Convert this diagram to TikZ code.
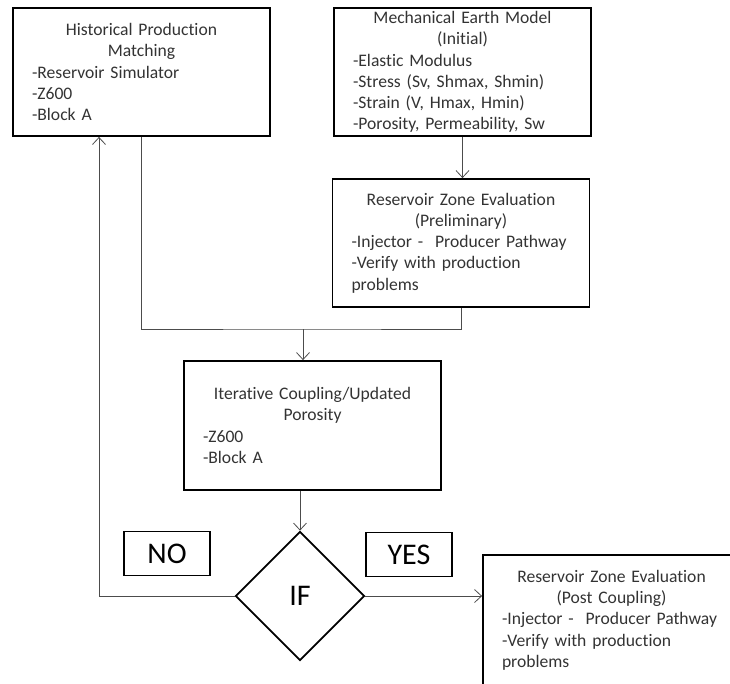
\documentclass[tikz,border=0pt]{standalone}
\usepackage{fontspec}
\setmainfont{Carlito}[Ligatures={NoCommon}]
\usetikzlibrary{shapes.geometric,arrows.meta}

\begin{document}
\begin{tikzpicture}[x=1pt, y=-1pt,
    box/.style={draw, line width=1.8pt, inner xsep=19pt, inner ysep=0pt,
        minimum height=128pt, text width=219pt, text=black!80,
        font=\fontsize{17.6}{21.3}\selectfont},
    tag/.style={draw, line width=1.8pt, minimum width=86pt, minimum height=44pt,
        font=\fontsize{30}{30}\selectfont},
    link/.style={line width=0.8pt, draw=black!70},
    arr/.style={link, -{Straight Barb[length=7pt,width=13pt]}}]
    \useasboundingbox (0,0) rectangle (730,683);

    % Top row
    \node[box] (hpm) at (141.5,72) {\centering Historical Production\\Matching\par
        \raggedright -Reservoir Simulator\\-Z600\\-Block A};
    \node[box] (mem) at (462.5,72) {\centering Mechanical Earth Model\\(Initial)\par
        \raggedright -Elastic Modulus\\-Stress (Sv, Shmax, Shmin)\\-Strain (V, Hmax, Hmin)\\-Porosity, Permeability, Sw};

    % Evaluation and coupling
    \node[box] (rze) at (461,243) {\centering Reservoir Zone Evaluation\\(Preliminary)\par
        \raggedright -Injector -~~Producer Pathway\\-Verify with production\\problems};
    \node[box, minimum height=129pt] (icp) at (312.5,425.5) {\centering Iterative Coupling/Updated\\Porosity\par
        \raggedright -Z600\\-Block A};

    % Decision
    \node[draw, diamond, aspect=1, minimum size=129pt, inner sep=0pt, line width=1.8pt,
        font=\fontsize{30}{30}\selectfont] (dia) at (300,596) {IF};
    \node[tag] (no) at (167,553.5) {NO};
    \node[tag] (yes) at (409,554.5) {YES};
    \node[box, minimum height=130pt] (post) at (611.5,620) {\centering Reservoir Zone Evaluation\\(Post Coupling)\par
        \raggedright -Injector -~~Producer Pathway\\-Verify with production\\problems};

    % Connectors
    \coordinate (join) at (303,329);
    \coordinate (back) at (99,596);
    \draw[arr] (mem.south) -- (mem.south |- rze.north);
    \draw[link] (hpm.south) |- (join) -| (rze.south);
    \draw[arr] (join) -- (join |- icp.north);
    \draw[arr] (icp.south -| dia.north) -- (dia.north);
    \draw[arr] (dia.east) -- (dia.east -| post.west);
    \draw[arr] (dia.west) -- (back) -- (back |- hpm.south);
\end{tikzpicture}
\end{document}
